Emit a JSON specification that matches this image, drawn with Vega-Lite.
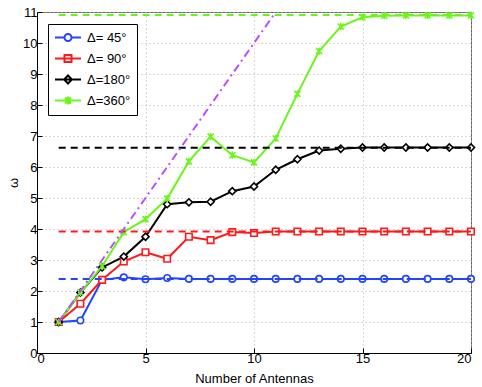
{
  "$schema": "https://vega.github.io/schema/vega-lite/v6.json",
  "autosize": "none",
  "width": 434,
  "height": 341,
  "padding": {"left": 37, "top": 12, "right": 11, "bottom": 34},
  "background": "white",
  "config": {
    "font": "Liberation Sans",
    "view": {"stroke": "#666666", "strokeWidth": 1},
    "axis": {
      "labelFont": "Liberation Sans",
      "labelFontSize": 13,
      "labelColor": "black",
      "titleFont": "Liberation Sans",
      "titleFontSize": 13,
      "titleFontWeight": "normal",
      "titleColor": "black",
      "domainColor": "black",
      "tickColor": "black",
      "gridColor": "#b0b0b0",
      "gridDash": [1, 3],
      "gridWidth": 1
    }
  },
  "datasets": {
    "curves": [
      {"x": 1, "y": 1, "s": "Δ= 45°"}, {"x": 2, "y": 1.05, "s": "Δ= 45°"}, {"x": 3, "y": 2.36, "s": "Δ= 45°"}, {"x": 4, "y": 2.44, "s": "Δ= 45°"}, {"x": 5, "y": 2.38, "s": "Δ= 45°"}, {"x": 6, "y": 2.42, "s": "Δ= 45°"}, {"x": 7, "y": 2.39, "s": "Δ= 45°"}, {"x": 8, "y": 2.39, "s": "Δ= 45°"}, {"x": 9, "y": 2.39, "s": "Δ= 45°"}, {"x": 10, "y": 2.39, "s": "Δ= 45°"}, {"x": 11, "y": 2.39, "s": "Δ= 45°"}, {"x": 12, "y": 2.39, "s": "Δ= 45°"}, {"x": 13, "y": 2.39, "s": "Δ= 45°"}, {"x": 14, "y": 2.39, "s": "Δ= 45°"}, {"x": 15, "y": 2.39, "s": "Δ= 45°"}, {"x": 16, "y": 2.39, "s": "Δ= 45°"}, {"x": 17, "y": 2.39, "s": "Δ= 45°"}, {"x": 18, "y": 2.39, "s": "Δ= 45°"}, {"x": 19, "y": 2.39, "s": "Δ= 45°"}, {"x": 20, "y": 2.39, "s": "Δ= 45°"},
      {"x": 1, "y": 1, "s": "Δ= 90°"}, {"x": 2, "y": 1.59, "s": "Δ= 90°"}, {"x": 3, "y": 2.36, "s": "Δ= 90°"}, {"x": 4, "y": 2.95, "s": "Δ= 90°"}, {"x": 5, "y": 3.25, "s": "Δ= 90°"}, {"x": 6, "y": 3.04, "s": "Δ= 90°"}, {"x": 7, "y": 3.75, "s": "Δ= 90°"}, {"x": 8, "y": 3.64, "s": "Δ= 90°"}, {"x": 9, "y": 3.9, "s": "Δ= 90°"}, {"x": 10, "y": 3.87, "s": "Δ= 90°"}, {"x": 11, "y": 3.92, "s": "Δ= 90°"}, {"x": 12, "y": 3.92, "s": "Δ= 90°"}, {"x": 13, "y": 3.92, "s": "Δ= 90°"}, {"x": 14, "y": 3.92, "s": "Δ= 90°"}, {"x": 15, "y": 3.92, "s": "Δ= 90°"}, {"x": 16, "y": 3.92, "s": "Δ= 90°"}, {"x": 17, "y": 3.92, "s": "Δ= 90°"}, {"x": 18, "y": 3.92, "s": "Δ= 90°"}, {"x": 19, "y": 3.92, "s": "Δ= 90°"}, {"x": 20, "y": 3.92, "s": "Δ= 90°"},
      {"x": 1, "y": 1, "s": "Δ=180°"}, {"x": 2, "y": 1.95, "s": "Δ=180°"}, {"x": 3, "y": 2.76, "s": "Δ=180°"}, {"x": 4, "y": 3.11, "s": "Δ=180°"}, {"x": 5, "y": 3.75, "s": "Δ=180°"}, {"x": 6, "y": 4.8, "s": "Δ=180°"}, {"x": 7, "y": 4.86, "s": "Δ=180°"}, {"x": 8, "y": 4.88, "s": "Δ=180°"}, {"x": 9, "y": 5.22, "s": "Δ=180°"}, {"x": 10, "y": 5.37, "s": "Δ=180°"}, {"x": 11, "y": 5.91, "s": "Δ=180°"}, {"x": 12, "y": 6.25, "s": "Δ=180°"}, {"x": 13, "y": 6.53, "s": "Δ=180°"}, {"x": 14, "y": 6.59, "s": "Δ=180°"}, {"x": 15, "y": 6.63, "s": "Δ=180°"}, {"x": 16, "y": 6.63, "s": "Δ=180°"}, {"x": 17, "y": 6.63, "s": "Δ=180°"}, {"x": 18, "y": 6.63, "s": "Δ=180°"}, {"x": 19, "y": 6.63, "s": "Δ=180°"}, {"x": 20, "y": 6.63, "s": "Δ=180°"},
      {"x": 1, "y": 1, "s": "Δ=360°"}, {"x": 2, "y": 1.95, "s": "Δ=360°"}, {"x": 3, "y": 2.8, "s": "Δ=360°"}, {"x": 4, "y": 3.9, "s": "Δ=360°"}, {"x": 5, "y": 4.32, "s": "Δ=360°"}, {"x": 6, "y": 4.98, "s": "Δ=360°"}, {"x": 7, "y": 6.18, "s": "Δ=360°"}, {"x": 8, "y": 6.98, "s": "Δ=360°"}, {"x": 9, "y": 6.38, "s": "Δ=360°"}, {"x": 10, "y": 6.15, "s": "Δ=360°"}, {"x": 11, "y": 6.92, "s": "Δ=360°"}, {"x": 12, "y": 8.36, "s": "Δ=360°"}, {"x": 13, "y": 9.74, "s": "Δ=360°"}, {"x": 14, "y": 10.53, "s": "Δ=360°"}, {"x": 15, "y": 10.83, "s": "Δ=360°"}, {"x": 16, "y": 10.88, "s": "Δ=360°"}, {"x": 17, "y": 10.89, "s": "Δ=360°"}, {"x": 18, "y": 10.89, "s": "Δ=360°"}, {"x": 19, "y": 10.89, "s": "Δ=360°"}, {"x": 20, "y": 10.89, "s": "Δ=360°"}
    ],
    "limits": [
      {"x1": 1, "x2": 20, "y": 2.39, "s": "Δ= 45°"},
      {"x1": 1, "x2": 20, "y": 3.92, "s": "Δ= 90°"},
      {"x1": 1, "x2": 20, "y": 6.62, "s": "Δ=180°"},
      {"x1": 1, "x2": 20, "y": 10.9, "s": "Δ=360°"}
    ],
    "bound": [
      {"x": 1, "y": 1},
      {"x": 11, "y": 11}
    ]
  },
  "layer": [
    {
      "data": {"name": "limits"},
      "mark": {"type": "point", "filled": false, "opacity": 0, "strokeWidth": 2},
      "encoding": {
        "x": {"field": "x1", "type": "quantitative", "scale": {"domain": [0, 20], "nice": false},
          "axis": {"values": [0, 5, 10, 15, 20], "tickCount": 5, "title": "Number of Antennas", "tickSize": -5, "labelPadding": 4, "titlePadding": 7, "grid": true, "labelOverlap": false}},
        "y": {"field": "y", "type": "quantitative", "scale": {"domain": [0, 11], "nice": false},
          "axis": {"values": [0, 1, 2, 3, 4, 5, 6, 7, 8, 9, 10, 11], "tickCount": 12, "title": "ω", "tickSize": -5, "labelPadding": 5, "titlePadding": 2, "grid": true, "labelOverlap": false}},
        "color": {"field": "s", "type": "nominal",
          "scale": {"domain": ["Δ= 45°", "Δ= 90°", "Δ=180°", "Δ=360°"], "range": ["#2244ff", "#ff1a1a", "#000000", "#6cf51a"]},
          "legend": {"orient": "none", "legendX": 11, "legendY": 12, "title": null,
            "fillColor": "white", "strokeColor": "black", "padding": 6,
            "symbolSize": 169, "symbolStrokeWidth": 2, "symbolOpacity": 1,
            "labelFont": "Liberation Sans", "labelFontSize": 13, "labelColor": "black",
            "labelOffset": 18, "rowPadding": 4}},
        "shape": {"field": "s", "type": "nominal",
          "scale": {"domain": ["Δ= 45°", "Δ= 90°", "Δ=180°", "Δ=360°"],
            "range": ["M-1,0H0.46M1.54,0H3M1.54,0A0.54,0.54 0 1,1 0.46,0A0.54,0.54 0 1,1 1.54,0", "M-1,0H3M0.46,-0.54H1.54V0.54H0.46Z", "M-1,0H3M1,-0.62L1.6,0L1,0.62L0.4,0Z", "M-1,0H3M0.55,-0.45L1.45,0.45M0.55,0.45L1.45,-0.45M1,-0.6V0.6"]},
          "legend": {"orient": "none", "legendX": 11, "legendY": 12, "title": null,
            "fillColor": "white", "strokeColor": "black", "padding": 6,
            "symbolSize": 169, "symbolStrokeWidth": 2, "symbolOpacity": 1,
            "labelFont": "Liberation Sans", "labelFontSize": 13, "labelColor": "black",
            "labelOffset": 18, "rowPadding": 4}}
      }
    },
    {
      "data": {"name": "curves"},
      "mark": {"type": "line", "strokeWidth": 2},
      "encoding": {
        "x": {"field": "x", "type": "quantitative"},
        "y": {"field": "y", "type": "quantitative"},
        "color": {"field": "s", "type": "nominal", "legend": null}
      }
    },
    {
      "data": {"name": "curves"},
      "transform": [{"filter": "datum.s === 'Δ= 45°'"}],
      "mark": {"type": "point", "shape": "circle", "filled": false, "fill": "white", "fillOpacity": 1, "strokeWidth": 1.6, "size": 42, "opacity": 1},
      "encoding": {
        "x": {"field": "x", "type": "quantitative"},
        "y": {"field": "y", "type": "quantitative"},
        "color": {"field": "s", "type": "nominal", "legend": null}
      }
    },
    {
      "data": {"name": "curves"},
      "transform": [{"filter": "datum.s === 'Δ= 90°'"}],
      "mark": {"type": "point", "shape": "square", "filled": false, "fill": "white", "fillOpacity": 1, "strokeWidth": 1.6, "size": 42, "opacity": 1},
      "encoding": {
        "x": {"field": "x", "type": "quantitative"},
        "y": {"field": "y", "type": "quantitative"},
        "color": {"field": "s", "type": "nominal", "legend": null}
      }
    },
    {
      "data": {"name": "curves"},
      "transform": [{"filter": "datum.s === 'Δ=180°'"}],
      "mark": {"type": "point", "shape": "diamond", "filled": false, "fill": "white", "fillOpacity": 1, "strokeWidth": 1.6, "size": 50, "opacity": 1},
      "encoding": {
        "x": {"field": "x", "type": "quantitative"},
        "y": {"field": "y", "type": "quantitative"},
        "color": {"field": "s", "type": "nominal", "legend": null}
      }
    },
    {
      "data": {"name": "curves"},
      "transform": [{"filter": "datum.s === 'Δ=360°'"}],
      "mark": {"type": "point", "shape": "M-1,-1L1,1M-1,1L1,-1M0,-1.2V1.2", "filled": false, "strokeWidth": 1.6, "size": 36, "opacity": 1},
      "encoding": {
        "x": {"field": "x", "type": "quantitative"},
        "y": {"field": "y", "type": "quantitative"},
        "color": {"field": "s", "type": "nominal", "legend": null}
      }
    },
    {
      "data": {"name": "limits"},
      "mark": {"type": "rule", "strokeWidth": 2, "strokeDash": [7, 5]},
      "encoding": {
        "x": {"field": "x1", "type": "quantitative"},
        "x2": {"field": "x2"},
        "y": {"field": "y", "type": "quantitative"},
        "color": {"field": "s", "type": "nominal", "legend": null}
      }
    },
    {
      "data": {"name": "bound"},
      "mark": {"type": "line", "strokeWidth": 2, "color": "#b84dff", "strokeDash": [8, 4, 2, 4], "clip": true},
      "encoding": {
        "x": {"field": "x", "type": "quantitative"},
        "y": {"field": "y", "type": "quantitative"}
      }
    }
  ]
}
